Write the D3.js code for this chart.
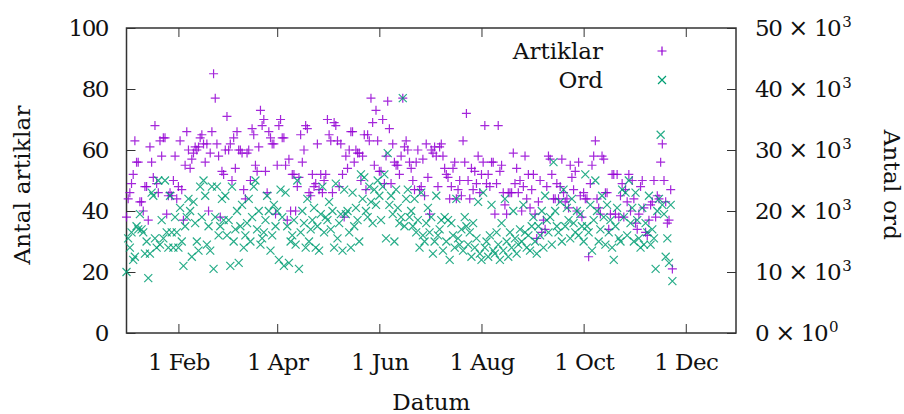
<!DOCTYPE html>
<html>
<head>
<meta charset="utf-8">
<script src="https://cdn.jsdelivr.net/npm/d3@7"></script>
<style>
  html, body { margin: 0; padding: 0; background: #fff; }
  svg { display: block; }
  svg text { font-family: "DejaVu Serif", "Liberation Serif", "Times New Roman", serif !important; fill: #111; }
</style>
</head>
<body>
<svg id="chart" width="904" height="414"></svg>
<script>
// ---- Data (daily, starting 1 Jan) ----
const startDate = "2021-01-01";

// Antal artiklar per day, month by month
const artJan = [38,44,46,49,52,63,56,56,43,43,40,48,48,37,61,56,51,68,49,46,63,58,64,64,39,45,46,45,50,58,44];
const artFeb = [48,63,47,37,55,66,60,54,57,59,61,60,61,64,65,62,56,62,40,59,66,85,77,62,58,38,53,52];
const artMar = [60,71,60,62,50,64,54,66,60,60,59,47,44,59,60,50,67,65,55,53,61,73,68,70,53,46,66,64,62,62,39];
const artApr = [55,68,70,64,64,55,37,57,40,52,52,40,48,51,65,56,60,68,67,46,45,52,48,49,62,47,52,46,50,52];
const artMay = [70,65,63,46,69,68,63,48,62,52,38,58,54,60,66,66,56,60,59,59,50,58,65,47,65,63,77,69,55,73,63];
const artJun = [53,53,70,49,58,76,67,49,62,56,55,55,52,58,77,61,63,60,56,54,50,47,56,60,47,48,57,45,62,51];
const artJul = [39,60,59,61,58,48,61,62,58,54,52,51,44,48,54,56,44,47,50,45,63,56,72,50,44,54,47,53,49,58,46];
const artAug = [52,56,68,49,52,48,56,56,39,49,68,53,55,46,42,39,46,46,46,59,49,54,46,50,40,48,58,44,52,41,47];
const artSep = [52,39,31,43,50,33,37,34,48,58,57,52,44,44,49,44,48,57,46,43,44,41,55,51,47,53,40,56,45,38];
const artOct = [46,44,44,25,49,55,58,63,44,41,39,58,57,46,46,34,39,52,52,39,52,38,45,49,38,47,43,52,40,50,44];
const artNov = [36,34,39,48,50,41,33,32,37,42,43,50,38,45,44,56,62,50,43,36,37,47,21];

// Antal ord per day, in thousands of words
const ordJan = [10,15.5,14,16.5,12,12.5,17.5,17,19.5,17,16.5,13,15,9,13,23,22.5,15.5,14,25,14.5,18.5,15.5,25,16.5,14,22.5,16.5,14,19,16.5];
const ordFeb = [14,20.5,15,11,17.5,19,22,20,12.5,21.5,18,15,13.5,24,19,25,22.5,14.5,17.5,13.5,24,10.5,19,24,16,17.5,22,18.5];
const ordMar = [22.5,16,18.5,11,24,15,17,20,11.5,17.5,21,14,16,18,22,15,19,24,25,17,20,14.5,15.5,16.5,18.5,22.5,20,13.5,16,21,17.5];
const ordApr = [20,12,23.5,19,11,23,17.5,11.5,15,16,18.5,14.5,25,10.5,16.5,20,18,14,22,15,17,18.5,20.5,14,17.5,13.5,19.5,24,16.5,19];
const ordMay = [18.5,21.5,17,20,14,24.5,15.5,18,19.5,13.5,23.5,19.5,20,16.5,14,23,17.5,20.5,18.5,15,26,22,25.5,20,19,24,21.5,18,23.5,21,25];
const ordJun = [22.5,18.5,24,26,15.5,29.5,21,22.5,19.5,15,23.5,20.5,18,19,38.5,17.5,22,23.5,19,20,17.5,22,16.5,18.5,14,23,16,15,18,20.5];
const ordJul = [16.5,19,13,15,22.5,16,17,18.5,13.5,19,15,18.5,12,18,16,14,22,15.5,14.5,17,13.5,19,17.5,14.5,16.5,12.5,18,14,15.5,21.5,13];
const ordAug = [12,23,14,15,12.5,16,21,13.5,13,16.5,14.5,12,18,13.5,22,15,12.5,16.5,14,20,15.5,13,14.5,17,15,21,16.5,14,16,13.5,17.5];
const ordSep = [19,15,13,17.5,16,20,14,22.5,18.5,16.5,19,14.5,28,20,17.5,16.5,21.5,15,23.5,17.5,20.5,18.5,15.5,22,18,16.5,20,16,19.5,17.5];
const ordOct = [15,26,17.5,16.5,21,13.5,18.5,25,20,15,17,22.5,19,14.5,21,16.5,18.5,14,12,17.5,20.5,15.5,15,23.5,19,23,16,25,18,20.5,15];
const ordNov = [23,18.5,15.5,14,20.5,14.5,18,16.5,22.5,14.5,17,15.5,10.5,20,22,32.5,21,19.5,12.5,15.5,11.5,21,8.5];

const artiklar = [].concat(artJan,artFeb,artMar,artApr,artMay,artJun,artJul,artAug,artSep,artOct,artNov);
const ord = [].concat(ordJan,ordFeb,ordMar,ordApr,ordMay,ordJun,ordJul,ordAug,ordSep,ordOct,ordNov);

const xTickDates = ["2021-02-01","2021-04-01","2021-06-01","2021-08-01","2021-10-01","2021-12-01"];
const xTickLabels = ["1 Feb","1 Apr","1 Jun","1 Aug","1 Oct","1 Dec"];
const yLeftTicks = [0,20,40,60,80,100];
const yRightTicks = [0,10,20,30,40,50];      // thousands
const yRightMant = ["0","10","20","30","40","50"];
const yRightExp = ["0","3","3","3","3","3"];

// ---- Layout ----
const L = 126.5, R = 736, T = 28, B = 333;
const svg = d3.select("#chart");
const parse = d3.utcParse("%Y-%m-%d");
const d0 = parse(startDate);
const dates = artiklar.map((_, i) => d3.utcDay.offset(d0, i));

const x = d3.scaleUtc().domain([parse("2021-01-01"), parse("2021-12-31")]).range([L, R]);
const y = d3.scaleLinear().domain([0, 100]).range([B, T]);
const y2 = d3.scaleLinear().domain([0, 50]).range([B, T]);

const FS = 23;
const axisColor = "#333";

// Bottom axis
const gx = svg.append("g").attr("transform", `translate(0,${B})`)
  .call(d3.axisBottom(x).tickValues(xTickDates.map(parse)).tickSize(-9).tickPadding(21)
    .tickFormat((d, i) => xTickLabels[i]));
// Top mirrored ticks
const gxt = svg.append("g").attr("transform", `translate(0,${T})`)
  .call(d3.axisTop(x).tickValues(xTickDates.map(parse)).tickSize(-9).tickFormat(""));
// Left axis
const gy = svg.append("g").attr("transform", `translate(${L},0)`)
  .call(d3.axisLeft(y).tickValues(yLeftTicks).tickSize(-9).tickPadding(18.5));
// Right axis (ticks only)
const gy2 = svg.append("g").attr("transform", `translate(${R},0)`)
  .call(d3.axisRight(y2).tickValues(yRightTicks).tickSize(-9).tickFormat(""));

[gx, gxt, gy, gy2].forEach(g => {
  g.attr("font-family", null);
  g.select(".domain").remove();
  g.selectAll(".tick line").attr("stroke", axisColor).attr("stroke-width", 1);
  g.selectAll(".tick text").attr("font-size", FS).attr("fill", "#111");
});
gx.selectAll(".tick text").attr("letter-spacing", -0.6);
gy.selectAll(".tick text").attr("dy", "0.33em").attr("letter-spacing", -1.5);

// Right tick labels: "N × 10^e"
const rl = svg.append("g");
yRightTicks.forEach((v, i) => {
  const t = rl.append("text").attr("x", 755).attr("y", y2(v) + 7.5).attr("font-size", FS)
    .attr("letter-spacing", -1.5);
  t.append("tspan").text(yRightMant[i]);
  t.append("tspan").attr("dx", 7).attr("font-size", 24).text("×");
  t.append("tspan").attr("dx", 7).text("10");
  t.append("tspan").attr("dx", 2).attr("dy", -9).attr("font-size", 15).text(yRightExp[i]);
});

// Frame
svg.append("rect").attr("x", L).attr("y", T).attr("width", R - L).attr("height", B - T)
  .attr("fill", "none").attr("stroke", axisColor).attr("stroke-width", 1.5);

// Axis titles
svg.append("text").attr("transform", `translate(30,185) rotate(-90)`)
  .attr("text-anchor", "middle").attr("font-size", FS).attr("letter-spacing", 0.2).text("Antal artiklar");
svg.append("text").attr("transform", `translate(884,185) rotate(90)`)
  .attr("text-anchor", "middle").attr("font-size", FS).attr("letter-spacing", 0.2).text("Antal ord");
svg.append("text").attr("x", (L + R) / 2).attr("y", 410)
  .attr("text-anchor", "middle").attr("font-size", FS).text("Datum");

// Markers
const purple = "#9400d3", green = "#009e73";
const plusPath = "M-4.5,0H4.5M0,-4.5V4.5";
const crossPath = "M-4,-4L4,4M-4,4L4,-4";

svg.append("g").selectAll("path").data(artiklar).join("path")
  .attr("transform", (d, i) => `translate(${x(dates[i])},${y(d)})`)
  .attr("d", plusPath).attr("stroke", purple).attr("stroke-width", 1.2).attr("fill", "none").attr("opacity", 0.85);

svg.append("g").selectAll("path").data(ord).join("path")
  .attr("transform", (d, i) => `translate(${x(dates[i])},${y2(d)})`)
  .attr("d", crossPath).attr("stroke", green).attr("stroke-width", 1.2).attr("fill", "none").attr("opacity", 0.85);

// Legend
const leg = svg.append("g");
leg.append("text").attr("x", 603).attr("y", 59).attr("text-anchor", "end").attr("font-size", FS)
  .text("Artiklar");
leg.append("text").attr("x", 603).attr("y", 88).attr("text-anchor", "end").attr("font-size", FS)
  .text("Ord");
leg.append("path").attr("transform", "translate(662,51)").attr("d", plusPath)
  .attr("stroke", purple).attr("stroke-width", 1.2).attr("fill", "none");
leg.append("path").attr("transform", "translate(662,80)").attr("d", crossPath)
  .attr("stroke", green).attr("stroke-width", 1.2).attr("fill", "none");
</script>
</body>
</html>
